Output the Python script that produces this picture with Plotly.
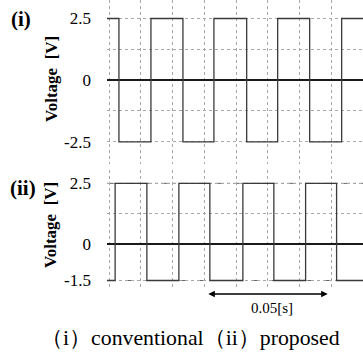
import plotly.graph_objects as go

# ---- data ----
t_start, t_end = -0.0008, 0.1
top_levels = [2.5, -2.5]          # (i) conventional: high / low
top_edges = [0.0039, 0.0165, 0.0291, 0.0413, 0.0542, 0.0664, 0.0790, 0.0916]
bot_levels = [-1.5, 2.5]          # (ii) proposed: starts low
bot_edges = [0.0024, 0.0149, 0.0275, 0.0397, 0.0527, 0.0649, 0.0774, 0.0896]

top_ticks = [-2.5, -1.25, 0, 1.25, 2.5]
top_ticktext = ["-2.5", "", "0", "", "2.5"]
bot_ticks = [-1.5, 0, 1.25, 2.5]
bot_ticktext = ["-1.5", "0", "", "2.5"]
bot_limits = [2.5, -1.5]          # dash-dot reference levels
arrow_span = [0.0385, 0.0861]
arrow_label = "0.05[s]"
caption = "（i）conventional（ii）proposed"
x_grid_step = 0.0125


def step(edges, levels):
    xs = [t_start] + edges + [t_end]
    ys = [levels[i % 2] for i in range(len(edges) + 1)]
    ys.append(ys[-1])
    return xs, ys


SERIF = "Liberation Serif, Times New Roman, serif"
W, H = 363, 356
L = 107

fig = go.Figure()
xs, ys = step(top_edges, top_levels)
fig.add_trace(go.Scatter(x=xs, y=ys, mode="lines", line_shape="hv",
                         line=dict(color="#3a3a3a", width=1.3),
                         xaxis="x", yaxis="y", showlegend=False, hoverinfo="skip"))
xs, ys = step(bot_edges, bot_levels)
fig.add_trace(go.Scatter(x=xs, y=ys, mode="lines", line_shape="hv",
                         line=dict(color="#3a3a3a", width=1.3),
                         xaxis="x2", yaxis="y2", showlegend=False, hoverinfo="skip"))

def py(p):  # pixel (from top) -> paper
    return 1 - p / H

xcommon = dict(range=[t_start, t_end], tick0=0, dtick=x_grid_step, automargin=False,
               showticklabels=False, ticks="", showgrid=True, griddash="dot",
               gridcolor="#a8a8a8", gridwidth=1, zeroline=False, showline=False)
ycommon = dict(showgrid=True, griddash="dot", gridcolor="#a8a8a8", gridwidth=1,
               zeroline=True, zerolinecolor="#1a1a1a", zerolinewidth=2, automargin=False,
               showline=False, ticks="", ticklabelstandoff=15,
               tickfont=dict(family=SERIF, size=17, color="black"))

fig.update_layout(
    width=W, height=H, margin=dict(l=L, r=0, t=0, b=0, autoexpand=False),
    paper_bgcolor="white", plot_bgcolor="white",
    font=dict(family=SERIF),
    xaxis=dict(domain=[0, 1], anchor="y", **xcommon),
    xaxis2=dict(domain=[0, 1], anchor="y2", **xcommon),
    yaxis=dict(domain=[py(164), 1], range=[-3.4, 3.25], tickmode="array",
               tickvals=top_ticks, ticktext=top_ticktext, anchor="x", **ycommon),
    yaxis2=dict(domain=[py(289), py(170)], range=[-1.85, 3.05], tickmode="array",
                tickvals=bot_ticks, ticktext=bot_ticktext, anchor="x2", **ycommon),
)

for lv in bot_limits:
    fig.add_shape(type="line", xref="x2 domain", yref="y2", x0=0, x1=1, y0=lv, y1=lv,
                  line=dict(color="#666", width=1, dash="dashdot"), layer="below")


def text_px(txt, x, y, size, angle=0, bold=False):
    fig.add_annotation(text=f"<b>{txt}</b>" if bold else txt,
                       xref="paper", yref="paper",
                       x=(x - L) / (W - L), y=py(y),
                       xanchor="center", yanchor="middle", showarrow=False,
                       textangle=angle, font=dict(family=SERIF, size=size, color="black"))

text_px("(i)", 21, 19, 21, bold=True)
text_px("(ii)", 23, 188, 21, bold=True)
text_px("Voltage  [V]", 51, 79, 17, angle=-90, bold=True)
text_px("Voltage  [V]", 50, 225, 17, angle=-90, bold=True)
text_px(arrow_label, 272, 308, 15)
text_px(caption, 190, 338, 21.8)

# time-span arrow
fig.add_annotation(x=arrow_span[1], y=py(294), xref="x2", yref="paper",
                   ax=arrow_span[0], ay=0, axref="x2", ayref="pixel",
                   showarrow=True, arrowhead=2, startarrowhead=2, arrowside="end+start",
                   arrowsize=1, arrowwidth=1.3, arrowcolor="black", text="")

fig.write_html("out.html", config={"displayModeBar": False, "staticPlot": True},
               post_script="document.body.style.margin='0';document.body.style.overflow='hidden';")
